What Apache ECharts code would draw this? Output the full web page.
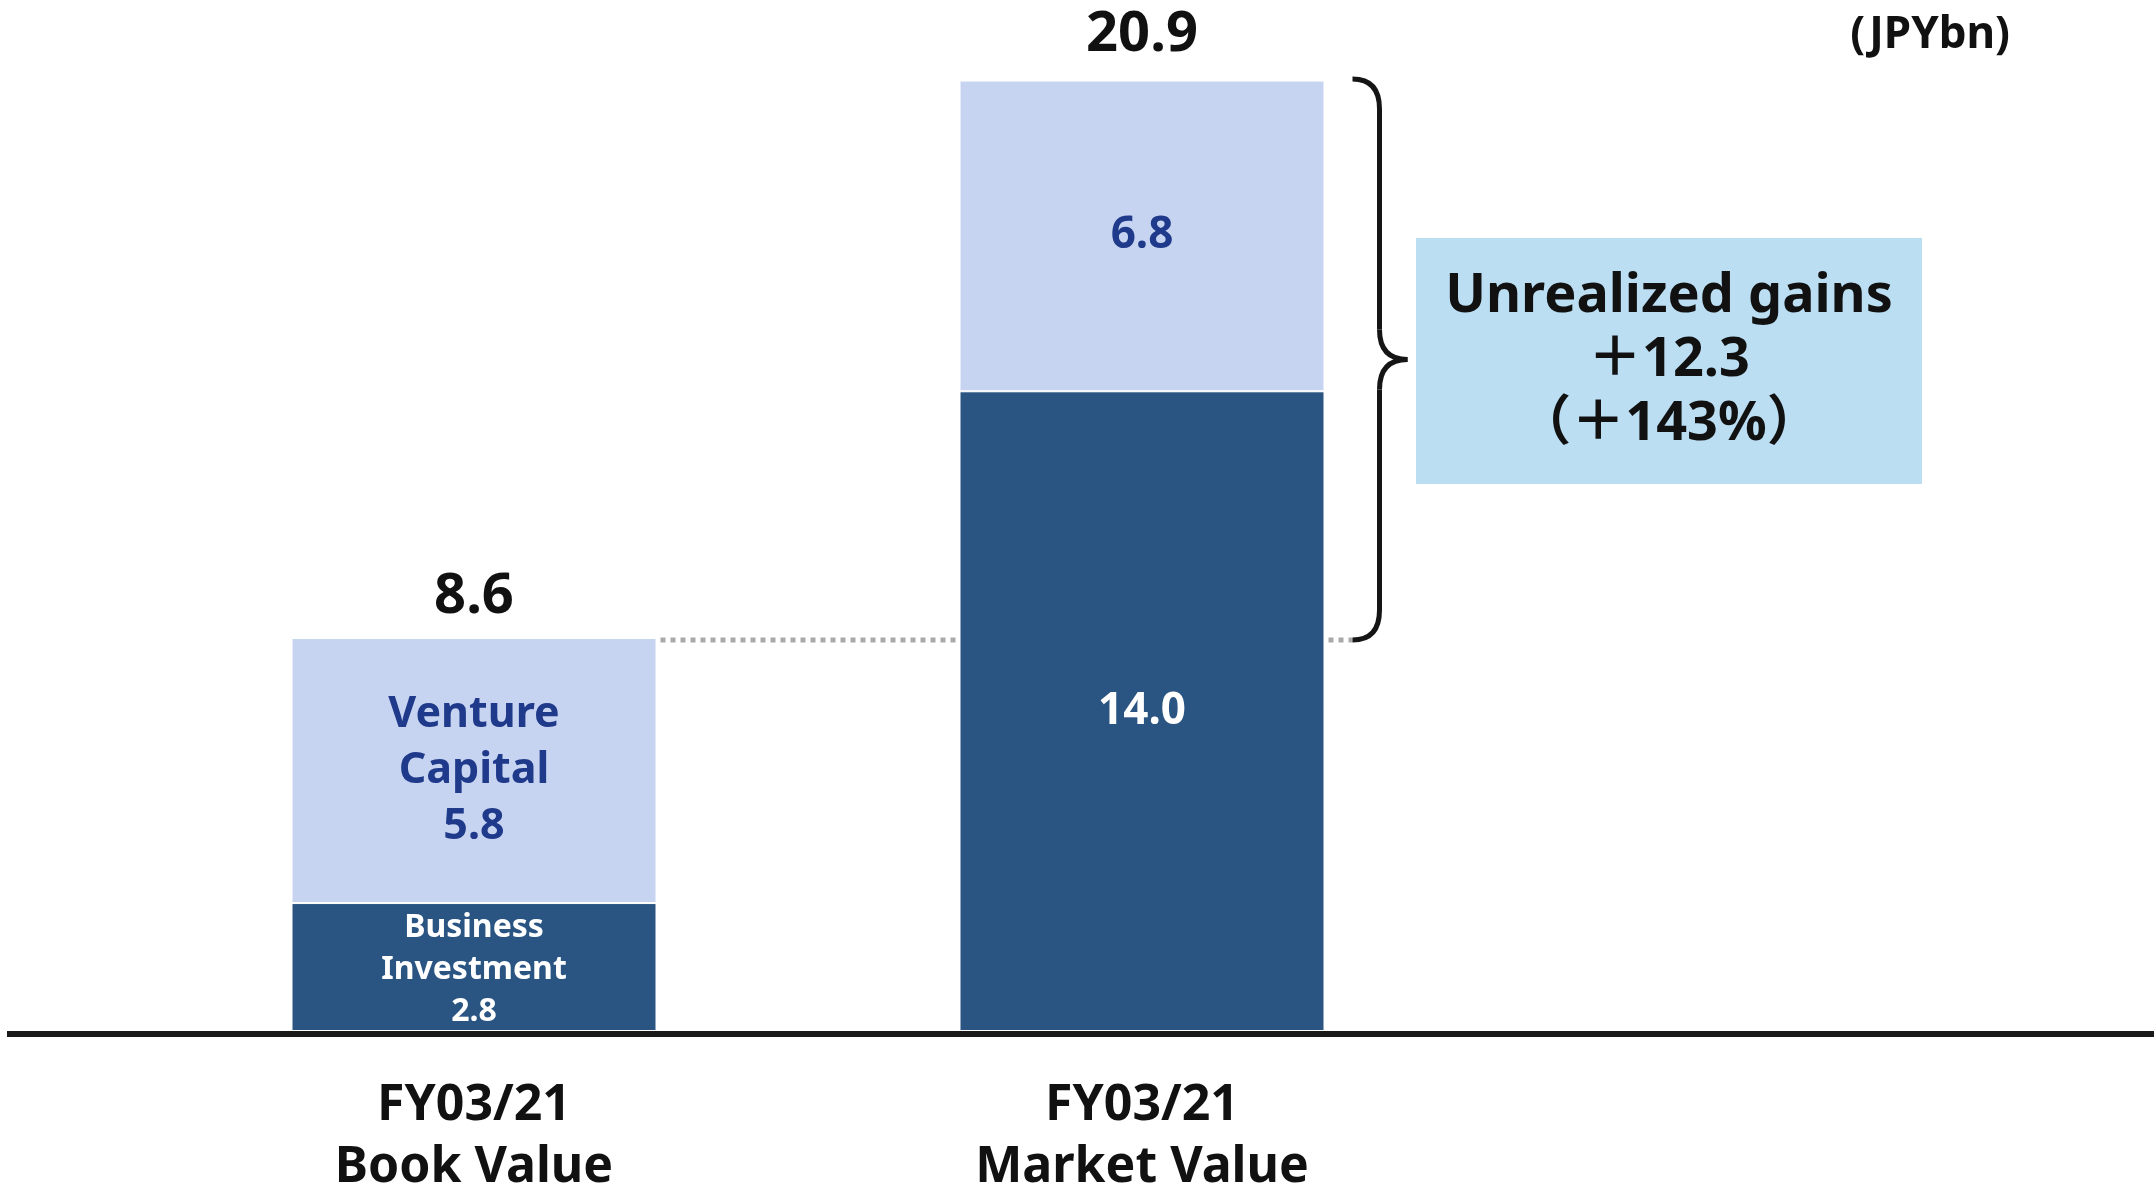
<!DOCTYPE html>
<html>
<head>
<meta charset="utf-8">
<script src="https://cdn.jsdelivr.net/npm/echarts@6/dist/echarts.min.js"></script>
<style>
html,body{margin:0;padding:0;background:#fff;}
#chart{width:2154px;height:1187px;}
</style>
</head>
<body>
<div id="chart"></div>
<script>
var categories = ['FY03/21\nBook Value', 'FY03/21\nMarket Value'];
var businessInvestment = [2.8, 14.0];
var ventureCapital = [5.8, 6.8];
var totals = [8.6, 20.9];
var businessLabel = 'Business\nInvestment';
var ventureLabel = 'Venture\nCapital';
var unitLabel = '(JPYbn)';
var gainsText = ['Unrealized gains', '＋12.3', '（＋143%）'];

var FONT = '"Noto Sans", "Noto Sans CJK JP", sans-serif';
var DARK = '#2A5482';
var LIGHT = '#C6D4F1';
var NAVY = '#1F3A8A';
var BAR_W = 365;

var chart = echarts.init(document.getElementById('chart'));

var bizData = businessInvestment.map(function (v, i) {
  return {
    value: v,
    label: i === 0
      ? { formatter: businessLabel + '\n' + v.toFixed(1), fontSize: 32, lineHeight: 42, offset: [0, 3] }
      : { formatter: v.toFixed(1), fontSize: 44, lineHeight: 56 }
  };
});
var vcData = ventureCapital.map(function (v, i) {
  return {
    value: v,
    label: i === 0
      ? { formatter: ventureLabel + '\n' + v.toFixed(1), fontSize: 43, lineHeight: 56 }
      : { formatter: v.toFixed(1), fontSize: 44, lineHeight: 56 }
  };
});

chart.setOption({
  animation: false,
  backgroundColor: '#fff',
  grid: { left: 140, right: 678, top: 76, bottom: 156, containLabel: false, outerBoundsMode: 'none' },
  xAxis: {
    type: 'category',
    data: categories,
    axisLine: { show: false },
    axisTick: { show: false },
    axisLabel: {
      fontFamily: FONT, fontSize: 50, fontWeight: 'bold', color: '#111',
      lineHeight: 62, margin: 44
    }
  },
  yAxis: {
    type: 'value', min: 0, max: 20.9,
    show: false, splitLine: { show: false }
  },
  series: [
    {
      name: 'Business Investment', type: 'bar', stack: 'total',
      barWidth: BAR_W, data: bizData,
      itemStyle: { color: DARK, borderColor: '#fff', borderWidth: 1 },
      label: { show: true, position: 'inside', color: '#fff', fontFamily: FONT, fontWeight: 'bold' }
    },
    {
      name: 'Venture Capital', type: 'bar', stack: 'total',
      barWidth: BAR_W, data: vcData,
      itemStyle: { color: LIGHT, borderColor: '#fff', borderWidth: 1 },
      label: { show: true, position: 'inside', color: NAVY, fontFamily: FONT, fontWeight: 'bold' }
    },
    {
      name: 'Total', type: 'line', data: totals,
      symbol: 'circle', symbolSize: 1, showSymbol: true,
      itemStyle: { opacity: 0 },
      lineStyle: { opacity: 0 }, silent: true,
      label: {
        show: true, position: 'top', distance: 12, opacity: 1,
        formatter: function (p) { return p.value.toFixed(1); },
        fontFamily: FONT, fontSize: 56, fontWeight: 'bold', color: '#111'
      }
    }
  ]
});

function drawExtras() {
  var p0 = chart.convertToPixel({ xAxisIndex: 0, yAxisIndex: 0 }, [0, totals[0]]);
  var p1 = chart.convertToPixel({ xAxisIndex: 0, yAxisIndex: 0 }, [1, totals[1]]);
  var base = chart.convertToPixel({ xAxisIndex: 0, yAxisIndex: 0 }, [0, 0]);
  var yLow = p0[1] + 2;
  var yTop = p1[1] + 3;
  var bar1Right = p0[0] + BAR_W / 2;
  var bar2Left = p1[0] - BAR_W / 2;
  var bar2Right = p1[0] + BAR_W / 2;
  var bx0 = bar2Right + 28;   // brace end x
  var bxv = bar2Right + 55;   // brace vertical x
  var bxt = bar2Right + 83;   // brace tip x
  var mid = (yTop + yLow) / 2;
  var r = 30;
  var braceStyle = { stroke: '#151515', lineWidth: 5, fill: null };

  var boxX = 1416, boxY = 238, boxW = 506, boxH = 246;

  chart.setOption({
    graphic: [
      {
        type: 'line', z: 100,
        shape: { x1: 7, y1: base[1] + 3, x2: 2154, y2: base[1] + 3 },
        style: { stroke: '#1a1a1a', lineWidth: 6 }
      },
      {
        type: 'line', z: 100,
        shape: { x1: bar1Right + 4, y1: yLow, x2: bar2Left - 4, y2: yLow },
        style: { stroke: '#aaaaaa', lineWidth: 5, lineDash: [5, 5] }
      },
      {
        type: 'line', z: 100,
        shape: { x1: bar2Right + 4, y1: yLow, x2: bx0, y2: yLow },
        style: { stroke: '#aaaaaa', lineWidth: 5, lineDash: [5, 5] }
      },
      {
        type: 'bezierCurve', z: 101,
        shape: { x1: bx0, y1: yTop, cpx1: bxv, cpy1: yTop, x2: bxv, y2: yTop + r },
        style: braceStyle
      },
      {
        type: 'line', z: 101,
        shape: { x1: bxv, y1: yTop + r, x2: bxv, y2: mid - r },
        style: braceStyle
      },
      {
        type: 'bezierCurve', z: 101,
        shape: { x1: bxv, y1: mid - r, cpx1: bxv, cpy1: mid, x2: bxt, y2: mid },
        style: braceStyle
      },
      {
        type: 'bezierCurve', z: 101,
        shape: { x1: bxt, y1: mid, cpx1: bxv, cpy1: mid, x2: bxv, y2: mid + r },
        style: braceStyle
      },
      {
        type: 'line', z: 101,
        shape: { x1: bxv, y1: mid + r, x2: bxv, y2: yLow - r },
        style: braceStyle
      },
      {
        type: 'bezierCurve', z: 101,
        shape: { x1: bxv, y1: yLow - r, cpx1: bxv, cpy1: yLow, x2: bx0, y2: yLow },
        style: braceStyle
      },
      {
        type: 'rect', z: 100,
        shape: { x: boxX, y: boxY, width: boxW, height: boxH },
        style: { fill: '#BBDEF3' }
      },
      {
        type: 'text', z: 102,
        x: boxX + boxW / 2, y: boxY + boxH / 2,
        style: {
          text: gainsText.join('\n'),
          fontFamily: FONT, fontSize: 54, fontWeight: 'bold',
          fill: '#111', align: 'center', verticalAlign: 'middle', lineHeight: 64
        }
      },
      {
        type: 'text', z: 102,
        x: 2010, y: 35,
        style: {
          text: unitLabel, fontFamily: FONT, fontSize: 44, fontWeight: 'bold',
          fill: '#111', align: 'right', verticalAlign: 'middle'
        }
      }
    ]
  });
}
drawExtras();
</script>
</body>
</html>
